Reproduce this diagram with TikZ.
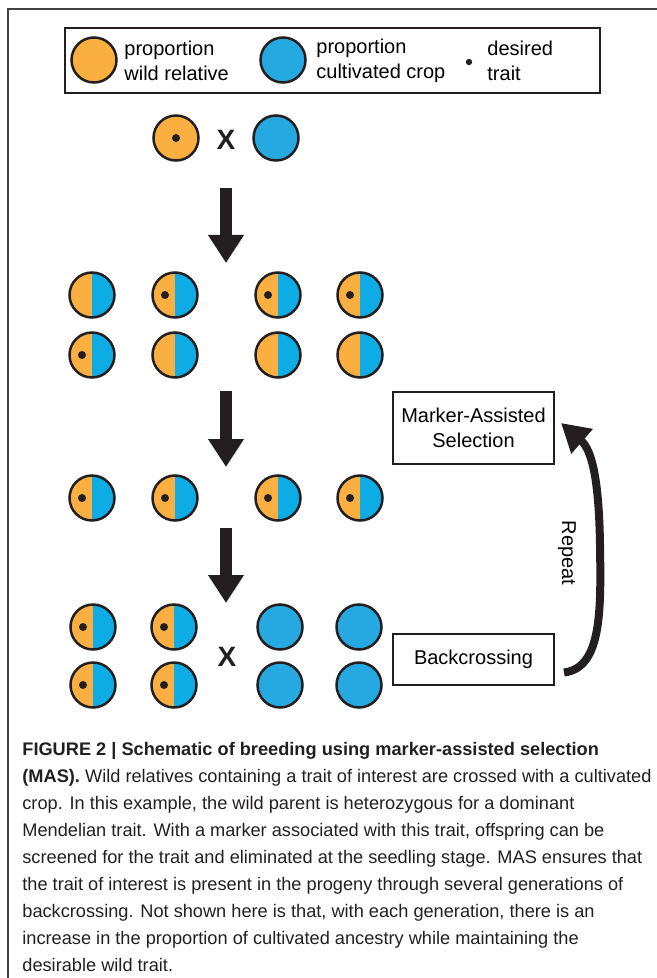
\documentclass[tikz,border=0pt]{standalone}
\usepackage{fontspec}
\setmainfont{Liberation Sans}
\usetikzlibrary{arrows.meta,positioning}
\definecolor{wild}{HTML}{FBAF41}
\definecolor{crop}{HTML}{25A9E0}
\definecolor{cropmix}{HTML}{0DACE4}
\definecolor{ink}{HTML}{231F20}

\begin{document}
\begin{tikzpicture}[
        x=0.5pt, y=-0.5pt,
        font=\fontsize{10}{12.5}\selectfont,
        plant/.style={circle, draw=ink, line width=1.25pt, minimum size=22.5pt, inner sep=0pt},
        wildp/.style={plant, fill=wild},
        cropp/.style={plant, fill=crop},
        donor/.style={plant, fill=wild, path picture={\fill[ink] (path picture bounding box.center) circle (2pt);}},
        hybrid/.style={plant, path picture={
            \fill[wild] (path picture bounding box.south west) rectangle (path picture bounding box.north);
            \fill[cropmix] (path picture bounding box.south) rectangle (path picture bounding box.north east);}},
        carrier/.style={plant, path picture={
            \fill[wild] (path picture bounding box.south west) rectangle (path picture bounding box.north);
            \fill[cropmix] (path picture bounding box.south) rectangle (path picture bounding box.north east);
            \fill[ink] ([xshift=-5pt]path picture bounding box.center) circle (2pt);}},
        box/.style={draw=ink, line width=1pt, align=center, inner sep=0pt},
        cross/.style={font=\fontsize{14}{14}\selectfont\bfseries, text=ink},
        down/.style={draw=ink, line width=5.75pt, -{Triangle[length=14pt, width=17pt]}},
        again/.style={draw=ink, line width=4pt, -{Triangle[length=14pt, width=15.5pt]}}
    ]
    \useasboundingbox (0,0) rectangle (657,978);
    \draw[ink!85, line width=0.8pt] (8,978) -- (8,9) -- (657,9);

    % legend
    \node[box, minimum width=267.5pt, minimum height=32.5pt] (legend) at (332.5,60.5) {};
    \node[wildp] (lwild) at (94,60) {};
    \node[align=left, anchor=west, inner sep=0pt] (lwildtxt) at (124,61) {proportion\\wild relative};
    \node[cropp] (lcrop) at (283,60) {};
    \node[align=left, anchor=west, inner sep=0pt] (lcroptxt) at (316,61) {proportion\\cultivated crop};
    \node[circle, fill=ink, inner sep=0pt, minimum size=3.2pt] (ldot) at (469,62) {};
    \node[align=left, anchor=west, inner sep=0pt] (ldottxt) at (487,61) {desired\\trait};

    % parents
    \node[donor] (p1) at (176,138) {};
    \node[cross] (x1) at (226,140) {X};
    \node[cropp] (p2) at (276,138) {};

    % F1
    \node[hybrid]  (f11) at (92,295) {};
    \node[carrier] (f12) at (175,295) {};
    \node[carrier] (f13) at (278,295) {};
    \node[carrier] (f14) at (360,295) {};
    \node[carrier] (f15) at (92,355) {};
    \node[hybrid]  (f16) at (175,355) {};
    \node[hybrid]  (f17) at (278,355) {};
    \node[hybrid]  (f18) at (360,355) {};

    % selected
    \node[carrier] (s1) at (92,498) {};
    \node[carrier] (s2) at (175,498) {};
    \node[carrier] (s3) at (278,498) {};
    \node[carrier] (s4) at (360,498) {};

    % backcross
    \node[carrier] (b1) at (93,627) {};
    \node[carrier] (b2) at (174,627) {};
    \node[cropp]   (b3) at (280,627) {};
    \node[cropp]   (b4) at (359,627) {};
    \node[carrier] (b5) at (93,685) {};
    \node[carrier] (b6) at (174,685) {};
    \node[cropp]   (b7) at (280,685) {};
    \node[cropp]   (b8) at (359,685) {};
    \node[cross] (x2) at (227,657) {X};

    % arrows
    \coordinate (a1) at (226,188);
    \coordinate (a1e) at (226,263);
    \coordinate (a2) at (226,391);
    \coordinate (a2e) at (226,467);
    \coordinate (a3) at (226,528);
    \coordinate (a3e) at (226,603);
    \draw[down] (a1) -- (a1e);
    \draw[down] (a2) -- (a2e);
    \draw[down] (a3) -- (a3e);

    % steps
    \node[box, minimum width=80.5pt, minimum height=36pt] (mas) at (473.5,428) {Marker-Assisted\\Selection};
    \node[box, minimum width=80.5pt, minimum height=25.5pt] (bx) at (473.5,659.5) {Backcrossing};
    \node[rotate=-90, inner sep=0pt] (rep) at (567,553) {Repeat};
    \draw[again] ([shift={(9,13)}]bx.east) .. controls (602,668) and (601,610) .. (600,545)
        .. controls (599,480) and (592,450) .. ([shift={(6,-5)}]mas.east);

    % caption
    \node[anchor=north west, align=left, inner sep=0pt, text=ink,
        font=\fontsize{9.1}{13.5}\selectfont] (cap) at (22,742) {%
        \textbf{FIGURE 2 | Schematic of breeding using marker-assisted selection}\\
        \textbf{(MAS).} Wild relatives containing a trait of interest are crossed with a cultivated\\
        crop. In this example, the wild parent is heterozygous for a dominant\\
        Mendelian trait. With a marker associated with this trait, offspring can be\\
        screened for the trait and eliminated at the seedling stage. MAS ensures that\\
        the trait of interest is present in the progeny through several generations of\\
        backcrossing. Not shown here is that, with each generation, there is an\\
        increase in the proportion of cultivated ancestry while maintaining the\\
        desirable wild trait.};
\end{tikzpicture}
\end{document}
